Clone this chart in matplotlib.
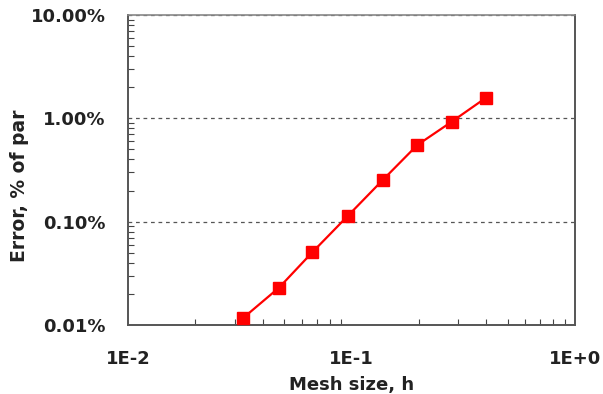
import matplotlib
matplotlib.use("Agg")
import matplotlib.pyplot as plt
from matplotlib.ticker import FuncFormatter, LogLocator, NullFormatter

# convergence data: mesh size vs. error (percent of par)
mesh_size = [0.0326, 0.0474, 0.0668, 0.0962, 0.138, 0.197, 0.281, 0.400]
error_pct = [0.0116, 0.0230, 0.0506, 0.1136, 0.2533, 0.552, 0.929, 1.585]

x_ticks = [1e-2, 1e-1, 1e0]
x_labels = ["1E-2", "1E-1", "1E+0"]
y_ticks = [0.01, 0.1, 1.0, 10.0]

plt.rcParams["font.family"] = ["DejaVu Sans"]
plt.rcParams["font.weight"] = "bold"

fig = plt.figure(figsize=(6.03, 3.94), dpi=100)
ax = fig.add_axes([0.2123, 0.1751, 0.7413, 0.7868])

ax.plot(mesh_size, error_pct, color="#ff0000", linewidth=1.6,
        marker="s", markersize=8.5, markeredgecolor="#ff0000", zorder=3)

ax.set_xscale("log")
ax.set_yscale("log")
ax.set_xlim(1e-2, 1e0)
ax.set_ylim(0.01, 10.0)

ax.set_xticks(x_ticks)
ax.set_xticklabels(x_labels)
ax.set_yticks(y_ticks)
ax.yaxis.set_major_formatter(FuncFormatter(lambda v, p: f"{v:.2f}%"))
ax.xaxis.set_minor_locator(LogLocator(base=10, subs=range(2, 10)))
ax.yaxis.set_minor_locator(LogLocator(base=10, subs=range(2, 10)))
ax.xaxis.set_minor_formatter(NullFormatter())
ax.yaxis.set_minor_formatter(NullFormatter())

ax.tick_params(which="both", direction="in", top=False, right=False,
               colors="#444444", labelcolor="#222222", labelsize=13)
ax.tick_params(which="major", length=0)
ax.tick_params(axis="y", which="major", pad=16)
ax.tick_params(axis="x", which="major", pad=18)
ax.tick_params(which="minor", length=4, width=0.8)

ax.yaxis.grid(True, which="major", linestyle=(0, (3, 3)), color="#555555", linewidth=0.9)

for side in ["left", "bottom", "right"]:
    ax.spines[side].set_color("#555555")
    ax.spines[side].set_linewidth(1.4)
ax.spines["top"].set_color("#888888")
ax.spines["top"].set_linewidth(1.2)

ax.set_xlabel("Mesh size, h", fontsize=13, fontweight="bold", color="#222222")
ax.set_ylabel("Error, % of par", fontsize=13.5, fontweight="bold", color="#222222")
ax.xaxis.label.set_va("center")
ax.yaxis.label.set_va("center")
ax.xaxis.set_label_coords(0.5, -0.194)
ax.yaxis.set_label_coords(-0.242, 0.448)

fig.savefig("out.png", dpi=100)
